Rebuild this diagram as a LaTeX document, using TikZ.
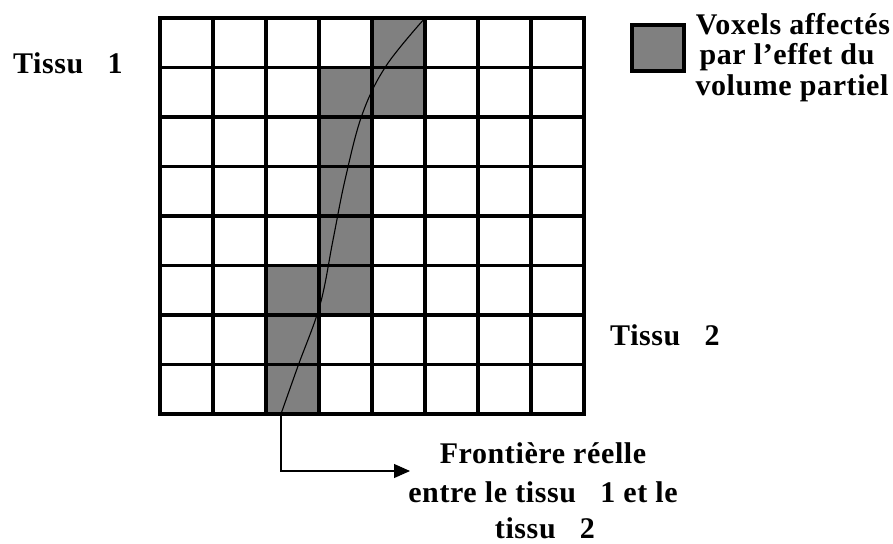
\documentclass[tikz,border=0pt]{standalone}
\usepackage{fontspec}
\setmainfont{Liberation Serif}
\newfontfamily\lblfont[LetterSpace=2]{Liberation Serif}
\usetikzlibrary{arrows.meta}
\definecolor{voxgray}{HTML}{808080}
\begin{document}
\begin{tikzpicture}[x=1pt,y=-1pt,
  gridline/.style={line width=3.6pt,line cap=rect},
  thinline/.style={line width=1.1pt},
  lbl/.style={font=\lblfont\fontsize{30}{36}\selectfont\bfseries,inner sep=0pt,anchor=base},
  lblw/.style={lbl,anchor=base west}]
\useasboundingbox (0,0) rectangle (893,543);
% shaded voxels
\foreach \c/\r in {4/0,3/1,4/1,3/2,3/3,3/4,2/5,3/5,2/6,2/7}
  \fill[voxgray] (160+53*\c,18+49.5*\r) rectangle ++(53,49.5);
% grid
\foreach \i in {0,...,8}{
  \draw[gridline] (160+53*\i,18) -- (160+53*\i,414);
  \draw[gridline] (160,18+49.5*\i) -- (584,18+49.5*\i);
}
% true boundary
\coordinate (ctop) at (425,18);
\coordinate (cbot) at (281,414);
\draw[thinline] plot[smooth,tension=0.6] coordinates
  {(ctop) (386,66) (362,115) (345,180) (333,240) (320,305) (298,366) (cbot)};
\coordinate (tip) at (410,471);
\draw[thinline,-{Triangle[length=16pt,width=14pt]}] (cbot) |- (tip);
% legend
\draw[line width=4pt,fill=voxgray] (632,25) rectangle (684,71);
\node[lbl] (leg1) at (793,35) {Voxels affectés};
\node[lbl] (leg2) at (787,64) {par l’effet du};
\node[lbl] (leg3) at (792,95) {volume partiel};
% tissue labels
\node[lblw] (t1) at (13,73) {Tissu~~~1};
\node[lblw] (t2) at (610,345) {Tissu~~~2};
% boundary caption
\node[lbl] (f1) at (543,463) {Frontière réelle};
\node[lbl] (f2) at (543,502) {entre le tissu~~~1 et le};
\node[lbl] (f3) at (545,538) {tissu~~~2};
\end{tikzpicture}
\end{document}
